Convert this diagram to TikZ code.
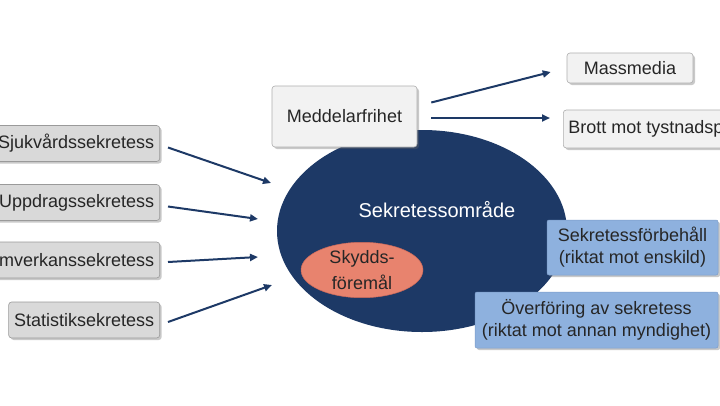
\documentclass[tikz,border=0pt]{standalone}
\usepackage{fontspec}
\setmainfont{Liberation Sans}
\usetikzlibrary{shapes.geometric,arrows.meta,shadows}
\definecolor{navy}{HTML}{1D3966}
\definecolor{txt}{HTML}{262626}
\definecolor{gbox}{HTML}{D9D9D9}
\definecolor{gline}{HTML}{9A9A9A}
\definecolor{wbox}{HTML}{F2F2F2}
\definecolor{bbox}{HTML}{8EB1DE}
\definecolor{bline}{HTML}{7C9CC8}
\definecolor{salmon}{HTML}{E8836E}
\definecolor{salmonline}{HTML}{C9685A}
\begin{document}
\begin{tikzpicture}[x=1pt,y=-1pt,
  shad/.style={drop shadow={shadow xshift=2pt,shadow yshift=-2pt,opacity=.35,fill=black!60}},
  lbox/.style={draw=gline,fill=gbox,rounded corners=3pt,line width=.6pt,text=txt,
    font=\fontsize{18}{21}\selectfont,inner xsep=5.5pt,inner ysep=0pt,minimum height=36pt,shad},
  wboxs/.style={draw=gline!80,fill=wbox,rounded corners=3pt,line width=.6pt,text=txt,
    font=\fontsize{18}{21}\selectfont,inner xsep=5pt,inner ysep=0pt,shad},
  bboxs/.style={draw=bline,fill=bbox,rounded corners=2pt,line width=.5pt,text=txt,align=center,
    font=\fontsize{18}{22}\selectfont,inner sep=0pt,shad},
  arr/.style={draw=navy,line width=2pt,-{Triangle[length=8pt,width=7pt]}}
]
\useasboundingbox (0,0) rectangle (720,405);
\clip (0,0) rectangle (720,405);
\fill[white] (0,0) rectangle (720,405);

% main area
\node[ellipse,fill=navy,minimum width=290pt,minimum height=202pt,inner sep=0pt] (area) at (422,231) {};
\node[text=white,font=\fontsize{20}{24}\selectfont] (areat) at (437,210) {Sekretessområde};
\node[ellipse,fill=salmon,draw=salmonline,line width=.5pt,minimum width=122pt,minimum height=54pt,inner sep=0pt,
  align=center,text=black!85,font=\fontsize{18}{26}\selectfont] (sky) at (362,270) {Skydds-\\föremål};

% left boxes
\node[lbox,anchor=east] (sj) at (160,143.5) {Sjukvårdssekretess};
\node[lbox,anchor=east] (up) at (160,202.5) {Uppdragssekretess};
\node[lbox,anchor=east] (sa) at (160,260) {Samverkanssekretess};
\node[lbox,anchor=east] (st) at (160,320) {Statistiksekretess};

% arrow targets
\coordinate (e1) at (271,183);
\coordinate (e2) at (258,219);
\coordinate (e3) at (258,257);
\coordinate (e4) at (272,285);

\draw[arr] ([shift={(8pt,-4pt)}]sj.east) -- (e1);
\draw[arr] ([shift={(8pt,-4pt)}]up.east) -- (e2);
\draw[arr] ([shift={(8pt,-2pt)}]sa.east) -- (e3);
\draw[arr] ([shift={(8pt,-2pt)}]st.east) -- (e4);

% top
\node[wboxs,minimum width=145pt,minimum height=61pt] (med) at (344.5,116.5) {Meddelarfrihet};
\node[wboxs,minimum width=126pt,minimum height=30pt] (mm) at (630,68) {Massmedia};
\node[wboxs,anchor=west,minimum height=38pt] (br) at (563,129) {Brott mot tystnadsplikt};

\draw[arr] ([shift={(14pt,14pt)}]med.east) -- ([shift={(-16pt,-4pt)}]mm.west);
\draw[arr] ([shift={(14pt,-1.5pt)}]med.east) -- ([shift={(-13pt,11pt)}]br.west);

% blue boxes
\node[bboxs,minimum width=171pt,minimum height=55pt] (fb) at (632.5,247.5) {Sekretessförbehåll\\(riktat mot enskild)};
\node[bboxs,minimum width=243pt,minimum height=56pt] (ov) at (596.5,320) {Överföring av sekretess\\(riktat mot annan myndighet)};
\end{tikzpicture}
\end{document}
